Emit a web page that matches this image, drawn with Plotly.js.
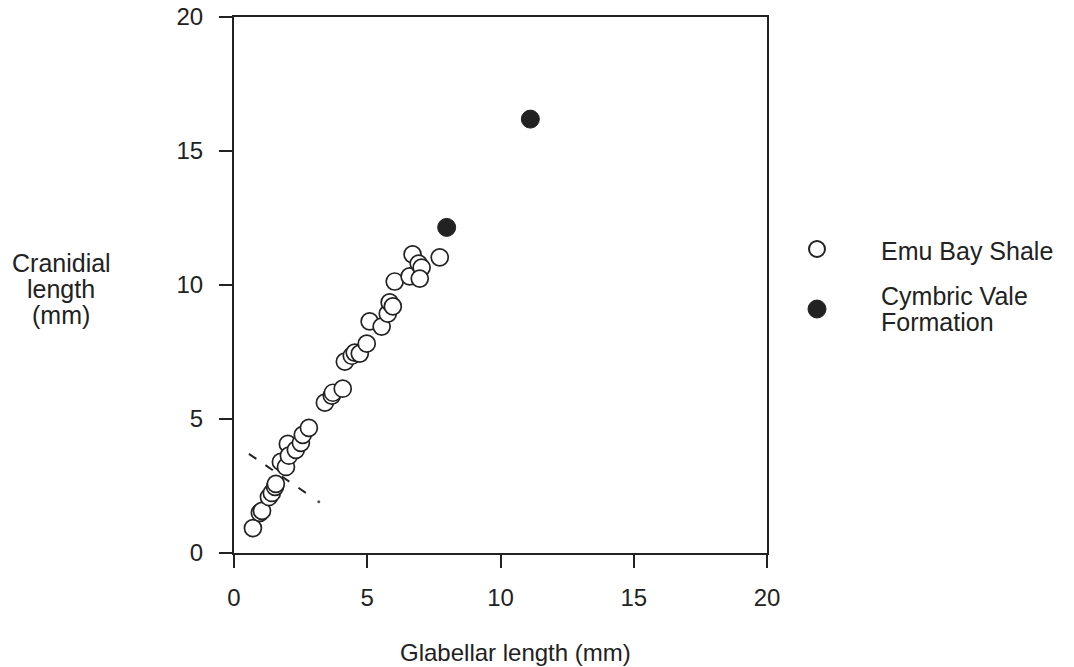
<!DOCTYPE html>
<html>
<head>
<meta charset="utf-8">
<script src="https://cdn.plot.ly/plotly-3.0.1.min.js"></script>
<style>html,body{margin:0;padding:0;background:#fff;}#chart{width:1074px;height:667px;}</style>
</head>
<body>
<div id="chart"></div>
<script>
// Emu Bay Shale (open circles)
var emuX = [0.71,0.97,1.05,1.31,1.42,1.54,1.57,1.76,1.95,2.02,2.06,2.32,2.51,2.58,2.81,3.41,3.67,3.71,4.08,4.16,4.42,4.53,4.72,4.98,5.09,5.54,5.77,5.84,5.96,6.03,6.59,6.70,6.93,7.04,6.97,7.72];
var emuY = [0.93,1.50,1.57,2.09,2.24,2.47,2.58,3.40,3.21,4.07,3.63,3.85,4.11,4.41,4.67,5.61,5.87,5.98,6.13,7.14,7.36,7.48,7.44,7.81,8.64,8.45,8.93,9.35,9.20,10.13,10.32,11.14,10.80,10.65,10.24,11.03];
// Cymbric Vale Formation (filled circles)
var cymX = [7.98, 11.12];
var cymY = [12.15, 16.19];
// dashed guide line and dot
var dashX = [0.56, 2.92];
var dashY = [3.70, 2.09];
var dotX = [3.18];
var dotY = [1.91];
var tickVals = [0, 5, 10, 15, 20];
var tickText = ['0', '5', '10', '15', '20'];
var legendLabels = ['Emu Bay Shale', 'Cymbric Vale', 'Formation'];
var yTitleLines = ['Cranidial', 'length', '(mm)'];
var xTitle = 'Glabellar length (mm)';

var ink = '#222';
var font = {family: 'Liberation Sans, Arial, Helvetica, sans-serif', size: 24, color: ink};
var font25 = {family: 'Liberation Sans, Arial, Helvetica, sans-serif', size: 25, color: ink};

// plot area in pixels
var L = 234, T = 17, R = 767, B = 553, W = 1074, H = 667;

var traces = [
  {x: dashX, y: dashY, mode: 'lines', line: {color: ink, width: 2, dash: '9px,11px'}, showlegend: false, hoverinfo: 'skip'},
  {x: dotX, y: dotY, mode: 'markers', marker: {color: '#555', size: 3}, showlegend: false, hoverinfo: 'skip'},
  {x: emuX, y: emuY, mode: 'markers', name: 'Emu Bay Shale', showlegend: false,
   marker: {symbol: 'circle', size: 17, color: '#fff', line: {color: ink, width: 1.7}}},
  {x: cymX, y: cymY, mode: 'markers', name: 'Cymbric Vale Formation', showlegend: false,
   marker: {symbol: 'circle', size: 18, color: ink, line: {color: ink, width: 1}}}
];

function ann(text, px, py, anchor, f) {
  return {text: text, xref: 'paper', yref: 'paper', x: 0, y: 1, xshift: px - L, yshift: -(py - T),
          showarrow: false, font: f || font, xanchor: anchor, yanchor: 'middle'};
}
function circ(px, py, d, filled) {
  return {type: 'circle', xref: 'paper', yref: 'paper', xsizemode: 'pixel', ysizemode: 'pixel',
          xanchor: (px - L) / (R - L), yanchor: (B - py) / (B - T),
          x0: -d / 2, x1: d / 2, y0: -d / 2, y1: d / 2,
          fillcolor: filled ? ink : '#fff', line: {color: ink, width: filled ? 1 : 2}};
}

var layout = {
  width: W, height: H,
  margin: {l: L, r: W - R, t: T, b: H - B},
  paper_bgcolor: '#fff', plot_bgcolor: '#fff',
  font: font,
  showlegend: false,
  xaxis: {range: [0, 20], tickvals: tickVals, ticktext: tickText, showgrid: false, zeroline: false,
          showline: true, mirror: true, linecolor: ink, linewidth: 2,
          ticks: 'outside', ticklen: 13, tickwidth: 2, tickcolor: ink, ticklabelstandoff: 9, tickfont: font},
  yaxis: {range: [0, 20], tickvals: tickVals, ticktext: tickText, showgrid: false, zeroline: false,
          showline: true, mirror: true, linecolor: ink, linewidth: 2,
          ticks: 'outside', ticklen: 13, tickwidth: 2, tickcolor: ink, ticklabelstandoff: 11, tickfont: font},
  shapes: [circ(817, 249, 16, false), circ(817, 309, 18, true)],
  annotations: [
    ann(xTitle, 515, 652, 'center'),
    ann(yTitleLines[0], 61, 263, 'center', font25),
    ann(yTitleLines[1], 61, 289, 'center', font25),
    ann(yTitleLines[2], 61, 315, 'center', font25),
    ann(legendLabels[0], 879, 251, 'left', font25),
    ann(legendLabels[1], 879, 296, 'left', font25),
    ann(legendLabels[2], 879, 322, 'left', font25)
  ]
};

Plotly.newPlot('chart', traces, layout, {displayModeBar: false, staticPlot: true});
</script>
</body>
</html>
